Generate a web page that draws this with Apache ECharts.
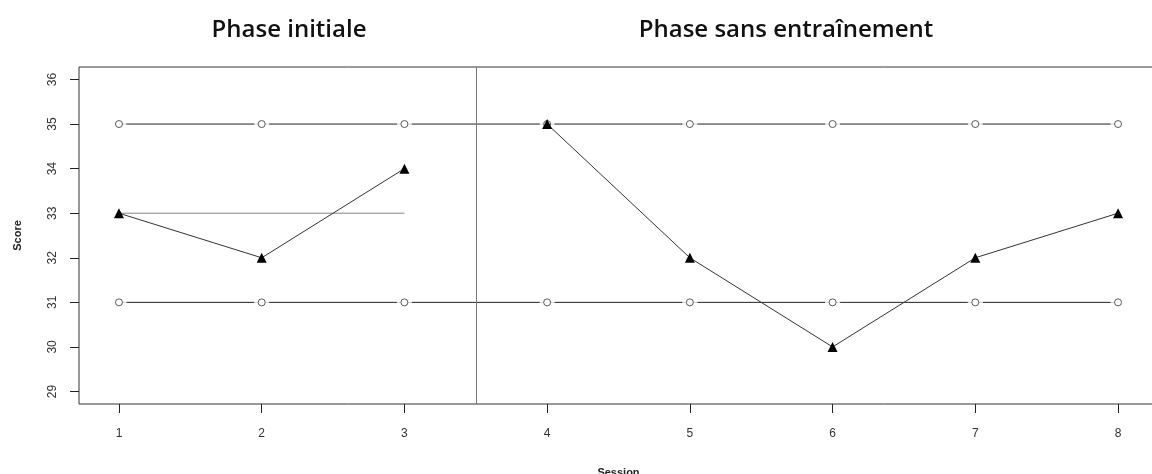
<!DOCTYPE html>
<html><head><meta charset="utf-8">
<script src="https://cdn.jsdelivr.net/npm/echarts@6/dist/echarts.min.js"></script>
<style>html,body{margin:0;padding:0;background:#fff;}#c{width:1152px;height:474px;}</style>
</head><body><div id="c"></div>
<script>
const sessions = [1, 2, 3, 4, 5, 6, 7, 8];
const scores = [33, 32, 34, 35, 32, 30, 32, 33];
const phaseOfSession = [1, 1, 1, 2, 2, 2, 2, 2];
const upperLimit = [35, 35, 35, 35, 35, 35, 35, 35];
const lowerLimit = [31, 31, 31, 31, 31, 31, 31, 31];
const baselineMean = 33;
const baselineSessions = [1, 3];
const phaseBreak = 3.5;
const yTicks = [29, 30, 31, 32, 33, 34, 35, 36];
const phaseTitles = ['Phase initiale', 'Phase sans entraînement'];

const pair = (xs, ys) => xs.map((x, i) => [x, ys[i]]);
const phasePoints = p => pair(sessions, scores).filter((d, i) => phaseOfSession[i] === p);
const chart = echarts.init(document.getElementById('c'));
const axisFont = {fontFamily: 'Liberation Sans', fontSize: 12, color: '#333'};
const titleFont = {fontFamily: 'Open Sans', fontWeight: 600, fontSize: 24, color: '#111'};
const triSeries = p => ({type: 'line', data: phasePoints(p), z: 5, symbol: 'triangle', symbolSize: 10,
  itemStyle: {color: '#000'}, lineStyle: {color: '#333', width: 1}});

chart.setOption({
  animation: false,
  backgroundColor: '#fff',
  title: [
    {text: phaseTitles[0], left: 284, top: 13, textAlign: 'center', textStyle: titleFont},
    {text: phaseTitles[1], left: 781, top: 13, textAlign: 'center', textStyle: titleFont}
  ],
  grid: {left: 79, top: 67, width: 1079, height: 337, outerBoundsMode: 'none', containLabel: false,
         show: true, borderColor: '#333', borderWidth: 1},
  xAxis: {
    type: 'value', min: 0.72, max: 8.28,
    name: 'Session', nameLocation: 'middle', nameGap: 63,
    nameTextStyle: {fontFamily: 'Liberation Sans', fontWeight: 'bold', fontSize: 11, color: '#222'},
    axisLine: {show: false},
    axisTick: {show: true, customValues: sessions, length: 9, lineStyle: {color: '#222'}},
    axisLabel: {customValues: sessions, margin: 24, ...axisFont},
    splitLine: {show: false}
  },
  yAxis: {
    type: 'value', min: 28.72, max: 36.28,
    name: 'Score', nameLocation: 'middle', nameGap: 56, nameRotate: 90,
    nameTextStyle: {fontFamily: 'Liberation Sans', fontWeight: 'bold', fontSize: 11, color: '#222'},
    axisLine: {show: false},
    axisTick: {show: true, customValues: yTicks, length: 9, lineStyle: {color: '#222'}},
    axisLabel: {customValues: yTicks, rotate: 90, margin: 20, ...axisFont},
    splitLine: {show: false}
  },
  series: [
    {type: 'line', data: pair(sessions, upperLimit), showSymbol: false, z: 2,
     lineStyle: {color: '#222', width: 1}},
    {type: 'line', data: pair(sessions, lowerLimit), showSymbol: false, z: 2,
     lineStyle: {color: '#222', width: 1},
     markLine: {silent: true, symbol: 'none', label: {show: false},
       lineStyle: {color: '#777', width: 1, type: 'solid'},
       data: [{xAxis: phaseBreak}]}},
    {type: 'scatter', data: pair(sessions, upperLimit).concat(pair(sessions, lowerLimit)),
     symbol: 'circle', symbolSize: 15, z: 3, itemStyle: {color: '#fff'}, silent: true},
    {type: 'scatter', data: pair(sessions, upperLimit).concat(pair(sessions, lowerLimit)),
     symbol: 'circle', symbolSize: 7, z: 4,
     itemStyle: {color: '#fff', borderColor: '#333', borderWidth: 1}},
    {type: 'line', data: baselineSessions.map(x => [x, baselineMean]), showSymbol: false, z: 4,
     lineStyle: {color: '#666', width: 0.8}},
    triSeries(1),
    triSeries(2)
  ]
});
</script></body></html>
